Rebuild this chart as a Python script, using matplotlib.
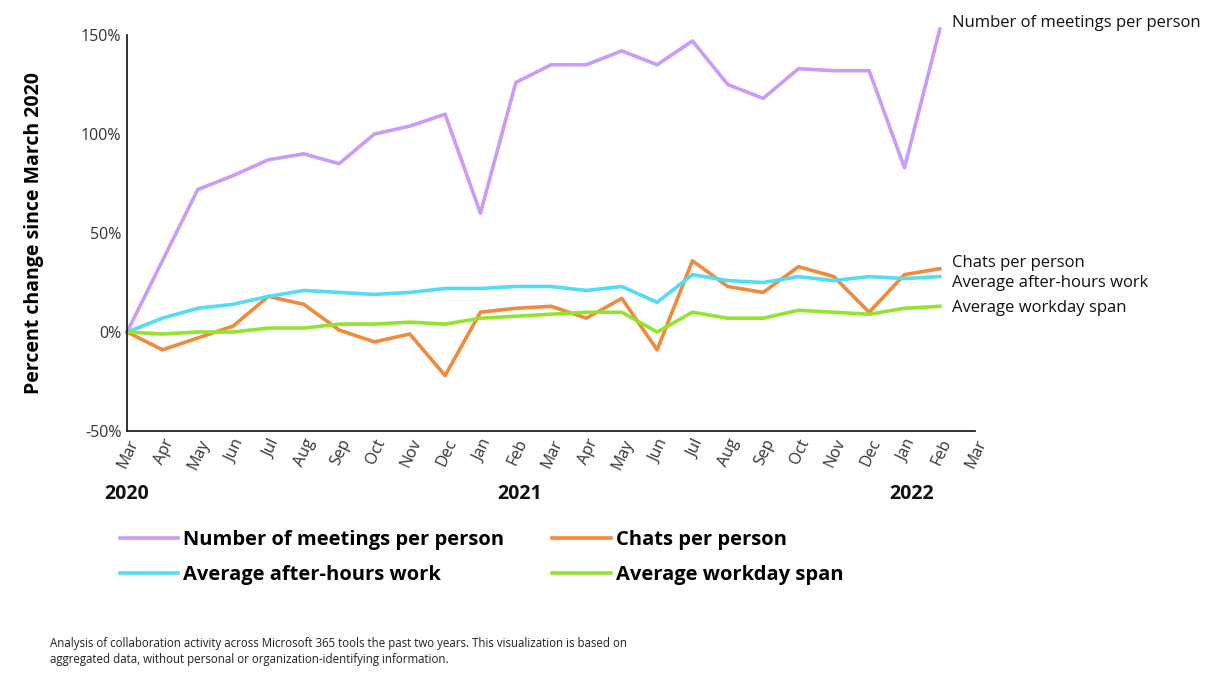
import matplotlib.pyplot as plt

plt.rcParams['font.family'] = ['Open Sans', 'DejaVu Sans']

months = ['Mar', 'Apr', 'May', 'Jun', 'Jul', 'Aug', 'Sep', 'Oct', 'Nov', 'Dec', 'Jan', 'Feb',
          'Mar', 'Apr', 'May', 'Jun', 'Jul', 'Aug', 'Sep', 'Oct', 'Nov', 'Dec', 'Jan', 'Feb', 'Mar']
years = ['2020', '2021', '2022']
year_pos = [0, 11.1, 22.2]

meetings = [0, 36, 72, 79, 87, 90, 85, 100, 104, 110, 60, 126,
            135, 135, 142, 135, 147, 125, 118, 133, 132, 132, 83, 153]
chats = [0, -9, -3, 3, 18, 14, 1, -5, -1, -22, 10, 12,
         13, 7, 17, -9, 36, 23, 20, 33, 28, 10, 29, 32]
after_hours = [0, 7, 12, 14, 18, 21, 20, 19, 20, 22, 22, 23,
               23, 21, 23, 15, 29, 26, 25, 28, 26, 28, 27, 28]
workday = [0, -1, 0, 0, 2, 2, 4, 4, 5, 4, 7, 8,
           9, 10, 10, 0, 10, 7, 7, 11, 10, 9, 12, 13]

names = ['Number of meetings per person', 'Chats per person',
         'Average after-hours work', 'Average workday span']
colors = ['#C99CF5', '#F08A3C', '#52DCF5', '#92E52C']
series = [meetings, chats, after_hours, workday]
end_label_y = [156, 35, 25, 12]   # where the right-hand labels sit

fig = plt.figure(figsize=(12.22, 6.74), dpi=100)
ax = fig.add_axes([0.104, 0.3605, 0.694, 0.5875])

x = list(range(len(meetings)))
handles = []
for s, c, n in zip(series, colors, names):
    h, = ax.plot(x, s, color=c, lw=2.6, label=n, clip_on=False)
    handles.append(h)

for n, yy in zip(names, end_label_y):
    ax.text(23.35, yy, n, fontsize=12, color='#111111', va='center', ha='left', clip_on=False)

ax.set_xlim(0, 24)
ax.set_ylim(-50, 150)
ax.set_yticks([-50, 0, 50, 100, 150])
ax.set_yticklabels(['-50%', '0%', '50%', '100%', '150%'], fontsize=11.5, color='#333333')
ax.set_xticks(range(len(months)))
ax.set_xticklabels(months, rotation=65, ha='right', rotation_mode='anchor',
                   fontsize=11.5, color='#333333')
ax.tick_params(length=0, pad=4)
for sp in ['top', 'right']:
    ax.spines[sp].set_visible(False)
for sp in ['left', 'bottom']:
    ax.spines[sp].set_color('#222222')
    ax.spines[sp].set_linewidth(1.3)

ax.set_ylabel('Percent change since March 2020', fontsize=14, fontweight='bold', labelpad=27)

for yr, xp in zip(years, year_pos):
    ax.text(xp, -82, yr, fontsize=14, fontweight='bold', ha='center', va='center',
            color='#111111', clip_on=False)

# legend fills column-wise, so reorder to get meetings/chats on the first row
order = [0, 2, 1, 3]
fig.legend([handles[i] for i in order], [names[i] for i in order],
           loc='upper left', bbox_to_anchor=(0.083, 0.24), ncol=2,
           frameon=False, handlelength=2.9, handletextpad=0.25, columnspacing=2.4,
           labelspacing=0.75, prop={'size': 14.5, 'weight': 'bold'})

fig.text(0.041, 0.012, 'Analysis of collaboration activity across Microsoft 365 tools the past two years. '
         'This visualization is based on\naggregated data, without personal or organization-identifying information.',
         fontsize=8.3, color='#222222', va='bottom', linespacing=1.3)

fig.savefig('out.png', dpi=100)
